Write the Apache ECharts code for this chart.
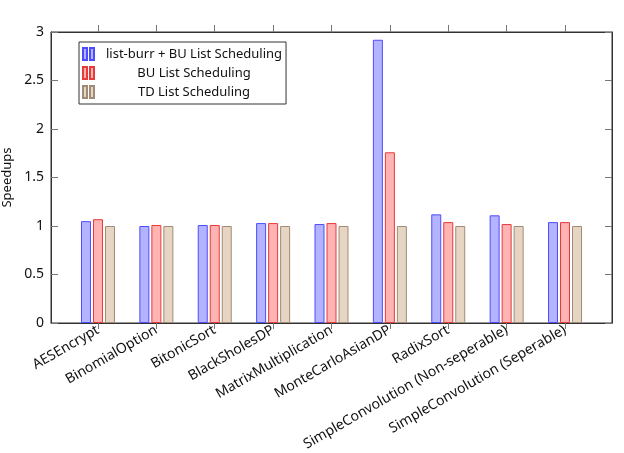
<!DOCTYPE html>
<html>
<head>
<meta charset="utf-8">
<script src="https://cdn.jsdelivr.net/npm/echarts@6/dist/echarts.min.js"></script>
<style>
  html, body { margin: 0; padding: 0; background: #fff; }
  #chart { width: 624px; height: 453px; }
</style>
</head>
<body>
<div id="chart"></div>
<script>
// benchmarks on the x axis
const categories = [
  'AESEncrypt', 'BinomialOption', 'BitonicSort', 'BlackSholesDP',
  'MatrixMultiplication', 'MonteCarloAsianDP', 'RadixSort',
  'SimpleConvolution (Non-seperable)', 'SimpleConvolution (Seperable)'
]
const seriesNames = ['list-burr + BU List Scheduling', 'BU List Scheduling', 'TD List Scheduling']
// speedups
const listBurrBU = [1.05, 1.0, 1.01, 1.03, 1.02, 2.92, 1.12, 1.11, 1.04]
const buList = [1.07, 1.01, 1.01, 1.03, 1.03, 1.76, 1.04, 1.02, 1.04]
const tdList = [1.0, 1.0, 1.0, 1.0, 1.0, 1.0, 1.0, 1.0, 1.0]
const yTicks = [0, 0.5, 1, 1.5, 2, 2.5, 3]

const FONT = 'Noto Sans'
const axisColor = '#333'
const tickColor = '#777'
const catIdx = categories.map((_, i) => i)

// fill / border pairs
const styles = [
  { color: '#b3b3ff', borderColor: '#4d4dff' },
  { color: '#ffb3b3', borderColor: '#e83a3a' },
  { color: '#e6d5c2', borderColor: '#a08c76' }
]

const chart = echarts.init(document.getElementById('chart'))

const mkSeries = (name, values, st) => ({
  name,
  type: 'bar',
  barWidth: 10,
  barGap: '20%',
  data: values.map((v, i) => [i, v]),
  itemStyle: { color: st.color, borderColor: st.borderColor, borderWidth: 1 },
  animation: false
})

const xBase = {
  type: 'value',
  min: -0.805,
  max: 8.805,
  splitLine: { show: false },
  axisLine: { show: true, onZero: false, lineStyle: { color: axisColor } }
}
const yBase = {
  type: 'value',
  min: 0,
  max: 3,
  interval: 0.5,
  splitLine: { show: false },
  axisLine: { show: true, onZero: false, lineStyle: { color: axisColor } },
  axisTick: { show: true, inside: true, length: 7, customValues: yTicks, lineStyle: { color: tickColor, width: 1 } }
}

chart.setOption({
  animation: false,
  textStyle: { fontFamily: FONT },
  grid: {
    left: 51, right: 12, top: 32, bottom: 130,
    outerBoundsMode: 'none',
    show: true, borderColor: axisColor, borderWidth: 1
  },
  legend: {
    orient: 'vertical',
    left: 79,
    top: 42,
    padding: [5, 4, 5, 3],
    itemGap: 5,
    itemWidth: 11,
    itemHeight: 12,
    borderColor: axisColor,
    borderWidth: 1,
    icon: 'path://M0,0h4v12h-4zM7,0h4v12h-4z',
    data: seriesNames,
    formatter: name => '{t|' + name + '}',
    textStyle: {
      rich: { t: { width: 190, align: 'center', fontSize: 13, fontFamily: FONT, color: '#111' } }
    }
  },
  xAxis: [
    Object.assign({}, xBase, {
      axisTick: { show: true, length: 6, customValues: catIdx, lineStyle: { color: tickColor, width: 1 } },
      axisLabel: {
        customValues: catIdx,
        rotate: 30,
        fontSize: 14,
        color: '#111',
        fontFamily: FONT,
        margin: 6,
        formatter: v => categories[Math.round(v)]
      }
    }),
    Object.assign({}, xBase, {
      position: 'top',
      axisTick: { show: true, length: 7, customValues: catIdx, lineStyle: { color: tickColor, width: 1 } },
      axisLabel: { show: false, customValues: catIdx }
    })
  ],
  yAxis: [
    Object.assign({}, yBase, {
      name: 'Speedups',
      nameLocation: 'middle',
      nameGap: 36,
      nameTextStyle: { fontSize: 13, color: '#111', fontFamily: FONT },
      axisLabel: { fontSize: 14, color: '#111', fontFamily: FONT, margin: 7, customValues: yTicks }
    }),
    Object.assign({}, yBase, {
      position: 'right',
      axisLabel: { show: false, customValues: yTicks }
    })
  ],
  series: [
    mkSeries(seriesNames[0], listBurrBU, styles[0]),
    mkSeries(seriesNames[1], buList, styles[1]),
    mkSeries(seriesNames[2], tdList, styles[2])
  ]
})
</script>
</body>
</html>
